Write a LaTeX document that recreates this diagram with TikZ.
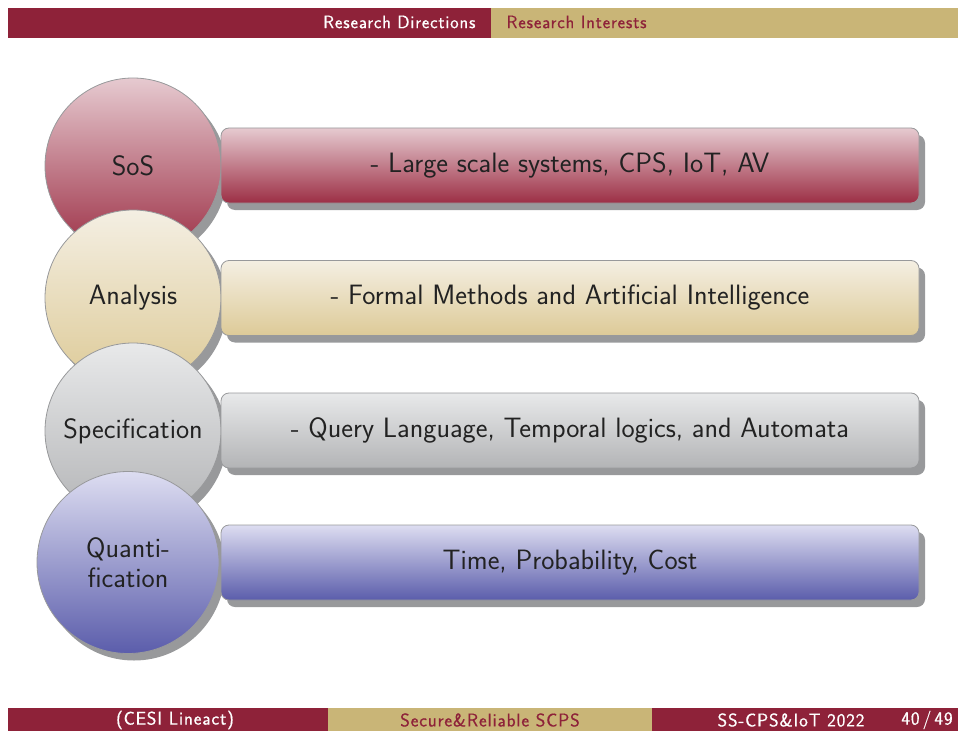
\documentclass[tikz,border=0pt]{standalone}
\usepackage{fontspec}
\usetikzlibrary{shadows}
\newfontfamily\hfsans{Latin Modern Sans}[LetterSpace=4.5, FakeBold=0.5]
\newfontfamily\ffsans{Latin Modern Sans}[LetterSpace=4.5, FakeBold=0.7]
\definecolor{bred}{HTML}{8E2239}
\definecolor{bgold}{HTML}{C9B577}
\definecolor{redT}{HTML}{E6CAD0}
\definecolor{redB}{HTML}{9C2F45}
\definecolor{tanT}{HTML}{F4EFE3}
\definecolor{tanB}{HTML}{DDCA97}
\definecolor{greyT}{HTML}{E8E9EA}
\definecolor{greyB}{HTML}{B3B4B6}
\definecolor{blueT}{HTML}{DDDDF1}
\definecolor{blueB}{HTML}{5B5DAB}
\definecolor{shad}{HTML}{98999B}
\definecolor{txt}{HTML}{222222}
\tikzset{
  bigfont/.style={font=\sffamily\fontsize{28}{30}\selectfont, text=txt},
  sh/.style={drop shadow={shadow xshift=6pt, shadow yshift=-7pt, fill=shad, opacity=1}},
  ball/.style={circle, minimum size=176pt, inner sep=0pt, draw=shad, line width=0.8pt, sh, bigfont, align=center},
  bar/.style={rectangle, rounded corners=8pt, minimum width=698pt, minimum height=75pt, draw=shad, line width=0.8pt, sh, bigfont},
  headtxt/.style={font=\hfsans\fontsize{18}{20}\selectfont},
  foottxt/.style={font=\ffsans\fontsize{18.5}{20}\selectfont},
}
\begin{document}
\begin{tikzpicture}[x=1pt,y=-1pt]
\useasboundingbox (0,0) rectangle (966,733);
% header
\fill[bred] (8,8) rectangle (491,38);
\fill[bgold] (491,8) rectangle (958,38);
\node[headtxt, text=white, anchor=east] (h1) at (479,22) {Research Directions};
\node[headtxt, text=bred, anchor=west] (h2) at (503,22) {Research Interests};
% items
\node[ball, top color=redT, bottom color=redB] (c1) at (133,166) {SoS};
\node[bar, top color=redT, bottom color=redB] (r1) at (570,165.5) {- Large scale systems, CPS, IoT, AV};
\node[ball, top color=tanT, bottom color=tanB] (c2) at (133,298) {Analysis};
\node[bar, top color=tanT, bottom color=tanB] (r2) at (570,298) {- Formal Methods and Artificial Intelligence};
\node[ball, top color=greyT, bottom color=greyB] (c3) at (133,431) {Specification};
\node[bar, top color=greyT, bottom color=greyB] (r3) at (570,430.5) {- Query Language, Temporal logics, and Automata};
\node[ball, minimum size=182pt, top color=blueT, bottom color=blueB] (c4) at (128,562.5) {Quanti-\\fication};
\node[bar, top color=blueT, bottom color=blueB] (r4) at (570,562.5) {Time, Probability, Cost};
% footer
\fill[bred] (8,708) rectangle (328,731);
\fill[bgold] (328,708) rectangle (652,731);
\fill[bred] (652,708) rectangle (958,731);
\node[foottxt, text=white] (f1) at (175,720) {(CESI Lineact)};
\node[foottxt, text=bred] (f2) at (490,720) {Secure\&Reliable SCPS};
\node[foottxt, text=white] (f3) at (791,720) {SS-CPS\&IoT 2022};
\node[foottxt, text=white] (f4) at (927,720) {40\,/\,49};
\end{tikzpicture}
\end{document}
